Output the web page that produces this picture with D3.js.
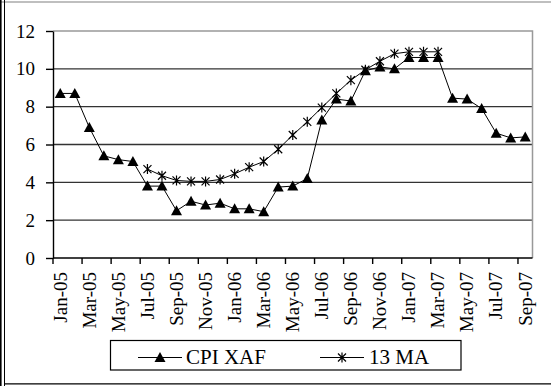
<html>
<head>
<meta charset="UTF-8">
<script src="https://d3js.org/d3.v7.min.js"></script>
<style>
  body { margin: 0; background: #fff; }
</style>
</head>
<body>
<svg id="chart" width="551" height="386"></svg>
<script>
// month labels
const months = ['Jan-05','Feb-05','Mar-05','Apr-05','May-05','Jun-05','Jul-05','Aug-05','Sep-05','Oct-05','Nov-05','Dec-05',
                'Jan-06','Feb-06','Mar-06','Apr-06','May-06','Jun-06','Jul-06','Aug-06','Sep-06','Oct-06','Nov-06','Dec-06',
                'Jan-07','Feb-07','Mar-07','Apr-07','May-07','Jun-07','Jul-07','Aug-07','Sep-07'];
// CPI XAF series
const cpi = [8.7, 8.7, 6.9, 5.4, 5.2, 5.1, 3.8, 3.8, 2.5, 3.0, 2.8, 2.9,
             2.6, 2.6, 2.45, 3.75, 3.8, 4.2, 7.3, 8.4, 8.3, 9.9, 10.1, 10.0,
             10.6, 10.6, 10.6, 8.45, 8.4, 7.9, 6.6, 6.35, 6.4];
// 13 month moving average
const ma13 = [null, null, null, null, null, null, 4.7, 4.35, 4.1, 4.05, 4.05, 4.15,
              4.45, 4.8, 5.1, 5.75, 6.5, 7.2, 7.95, 8.7, 9.4, 9.95, 10.4, 10.8,
              10.9, 10.9, 10.9, null, null, null, null, null, null];
const yTicks = [0, 2, 4, 6, 8, 10, 12];
const legendNames = ['CPI XAF', '13 MA'];

const FONT = "'Liberation Serif', 'Times New Roman', serif";

const svg = d3.select('#chart');

// outer frame
svg.append('line').attr('x1', 0).attr('x2', 551).attr('y1', 2).attr('y2', 2)
   .attr('stroke', '#aaa').attr('stroke-width', 1.5);
svg.append('line').attr('x1', 0.8).attr('x2', 0.8).attr('y1', 0).attr('y2', 386)
   .attr('stroke', '#000').attr('stroke-width', 1.6);
svg.append('line').attr('x1', 4.5).attr('x2', 4.5).attr('y1', 0).attr('y2', 386)
   .attr('stroke', '#000').attr('stroke-width', 1);
svg.append('line').attr('x1', 4).attr('x2', 551).attr('y1', 383.8).attr('y2', 383.8)
   .attr('stroke', '#000').attr('stroke-width', 1.3);

const pLeft = 53, pRight = 532.5, pTop = 31, pBottom = 258;

const x = d3.scaleBand().domain(months).range([pLeft, pRight]).padding(0);
const y = d3.scaleLinear().domain([0, 12]).range([pBottom, pTop]);
const cx = d => x(d) + x.bandwidth() / 2;

// gridlines
svg.append('g').selectAll('line').data(yTicks.filter(v => v > 0 && v < 12)).join('line')
   .attr('x1', pLeft).attr('x2', pRight)
   .attr('y1', d => y(d)).attr('y2', d => y(d))
   .attr('stroke', '#333').attr('stroke-width', 1.4);

// plot area border (top and right)
svg.append('path')
   .attr('d', `M${pLeft},${y(12)}H${pRight}V${pBottom}`)
   .attr('fill', 'none').attr('stroke', '#999').attr('stroke-width', 1.5);

// y axis
const yAxis = svg.append('g').attr('transform', `translate(${pLeft},0)`)
   .call(d3.axisLeft(y).tickValues(yTicks).tickSize(7).tickPadding(11).tickSizeOuter(0));
yAxis.attr('font-family', null).attr('font-size', null);
yAxis.select('.domain').attr('stroke', '#000').attr('stroke-width', 1.4);
yAxis.selectAll('.tick line').attr('stroke', '#000').attr('stroke-width', 1.4);
yAxis.selectAll('text').style('font-family', FONT)
   .style('font-size', '19px').attr('fill', '#000');

// x axis
svg.append('line').attr('x1', pLeft).attr('x2', pRight).attr('y1', pBottom).attr('y2', pBottom)
   .attr('stroke', '#000').attr('stroke-width', 1.4);
const shown = months.filter((m, i) => i % 2 === 0);
svg.append('g').selectAll('line').data(shown).join('line')
   .attr('x1', d => x(d)).attr('x2', d => x(d))
   .attr('y1', pBottom).attr('y2', pBottom + 6)
   .attr('stroke', '#000').attr('stroke-width', 1.4);
svg.append('g').selectAll('text').data(shown).join('text')
   .attr('transform', d => `translate(${cx(d)},272) rotate(-90)`)
   .attr('text-anchor', 'end').attr('dy', '0.33em')
   .style('font-family', FONT).style('font-size', '19px').attr('fill', '#000')
   .text(d => d);

// markers
const triPath = 'M0,-5.5L5.5,4.5L-5.5,4.5Z';
const starPath = 'M-4,-4L4,4M-4,4L4,-4M0,-5L0,5';

const line = d3.line().defined(d => d.v != null).x(d => cx(d.m)).y(d => y(d.v));
const cpiData = months.map((m, i) => ({m: m, v: cpi[i]}));
const maData = months.map((m, i) => ({m: m, v: ma13[i]}));

svg.append('path').datum(maData).attr('d', line)
   .attr('fill', 'none').attr('stroke', '#000').attr('stroke-width', 1);
svg.append('g').selectAll('path').data(maData.filter(d => d.v != null)).join('path')
   .attr('transform', d => `translate(${cx(d.m)},${y(d.v)})`)
   .attr('d', starPath).attr('fill', 'none').attr('stroke', '#000').attr('stroke-width', 1.2);

svg.append('path').datum(cpiData).attr('d', line)
   .attr('fill', 'none').attr('stroke', '#000').attr('stroke-width', 1);
svg.append('g').selectAll('path').data(cpiData).join('path')
   .attr('transform', d => `translate(${cx(d.m)},${y(d.v)})`)
   .attr('d', triPath).attr('fill', '#000');

// legend
const lg = svg.append('g');
lg.append('rect').attr('x', 110.5).attr('y', 340.5).attr('width', 350.5).attr('height', 29.5)
  .attr('fill', '#fff').attr('stroke', '#000').attr('stroke-width', 1.2);
const legendItems = [
  {name: legendNames[0], x0: 138, mark: triPath, fill: '#000', textX: 186},
  {name: legendNames[1], x0: 320, mark: starPath, fill: 'none', textX: 369}
];
legendItems.forEach(it => {
  lg.append('line').attr('x1', it.x0).attr('x2', it.x0 + 44).attr('y1', 357.5).attr('y2', 357.5)
    .attr('stroke', '#000').attr('stroke-width', 1);
  lg.append('path').attr('transform', `translate(${it.x0 + 22},357.5)`).attr('d', it.mark)
    .attr('fill', it.fill).attr('stroke', it.fill === 'none' ? '#000' : 'none').attr('stroke-width', 1.2);
  lg.append('text').attr('x', it.textX).attr('y', 363.5)
    .style('font-family', FONT).style('font-size', '21px').attr('fill', '#000').text(it.name);
});
</script>
</body>
</html>
